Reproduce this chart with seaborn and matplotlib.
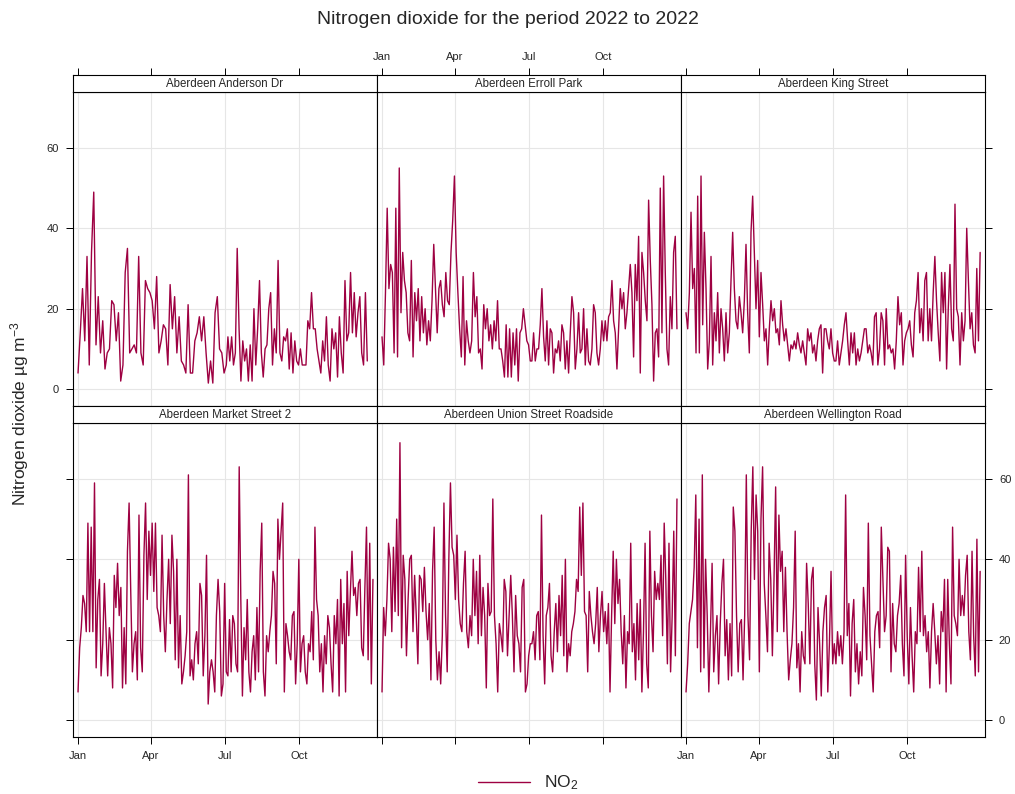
import pandas as pd
import matplotlib
matplotlib.use("Agg")
import matplotlib.pyplot as plt
import matplotlib.dates as mdates
import seaborn as sns
from matplotlib.lines import Line2D

# h1 = Jan..early Jul, h2 = early Jul..Dec
sites = ["Aberdeen Anderson Dr", "Aberdeen Erroll Park", "Aberdeen King Street",
         "Aberdeen Market Street 2", "Aberdeen Union Street Roadside", "Aberdeen Wellington Road"]
last_day = ["2022-12-24", "2022-12-31", "2022-12-30", "2022-12-31", "2022-12-31", "2022-12-30"]

anderson_h1 = [4, 14, 25, 12, 33, 6, 34, 49, 11, 23, 9, 17, 5, 9, 10, 22, 21, 12, 19, 2, 6, 29, 35, 9, 10,
               11, 9, 33, 9, 6, 27, 25, 24, 22, 15, 28, 9, 12, 16, 15, 6, 26, 15, 23, 9, 18, 7, 6, 4, 21,
               4, 4, 12, 14, 18, 12, 18, 9, 1.5, 7, 1.5, 19, 23, 10, 9, 4, 6]
anderson_h2 = [13, 7, 13, 6, 9, 35, 15, 2, 12, 7, 10, 2, 11, 2, 20, 6, 15, 27, 9, 3, 10, 11, 20, 24, 6,
               15, 9, 32, 9, 7, 13, 12, 15, 5, 14, 4, 12, 7, 6, 10, 6, 6, 6, 17, 15, 24, 15, 15, 10, 7,
               4, 12, 7, 18, 6, 2, 15, 10, 14, 3, 18, 9, 4, 27, 12, 14, 29, 14, 24, 13, 19, 23, 9, 6, 24, 7]

erroll_h1 = [13, 6, 24, 45, 25, 31, 29, 9, 45, 8, 55, 19, 34, 27, 24, 14, 12, 32, 8, 24, 17, 25, 12, 23, 14,
             20, 11, 17, 12, 22, 36, 25, 14, 25, 27, 21, 18, 29, 22, 21, 34, 42, 53, 34, 24, 15, 8, 28, 6, 17,
             12, 9, 12, 29, 18, 23, 9, 10, 5, 21, 15, 20, 12, 16, 10, 17, 12, 22, 10, 10, 7, 3, 16, 3, 15,
             3, 14, 6, 15, 2, 14, 15, 20, 16, 12, 11, 7]
erroll_h2 = [7, 14, 7, 10, 10, 16, 25, 13, 7, 17, 6, 15, 14, 4, 10, 9, 12, 7, 16, 14, 5, 12, 4, 14, 23,
             19, 5, 10, 19, 9, 10, 20, 6, 15, 7, 6, 10, 21, 19, 9, 6, 10, 17, 12, 17, 12, 18, 19, 27, 17,
             14, 5, 15, 25, 20, 24, 15, 19, 25, 31, 24, 8, 31, 22, 38, 4, 34, 29, 22, 17, 47, 32, 21, 2, 14,
             15, 8, 50, 14, 53, 29, 10, 6, 23, 15, 34, 38, 15]

king_h1 = [19, 15, 24, 44, 25, 30, 9, 48, 9, 53, 16, 39, 25, 5, 12, 33, 6, 19, 12, 24, 9, 20, 15, 7, 19,
           9, 14, 27, 39, 25, 17, 15, 23, 19, 14, 22, 36, 19, 9, 39, 48, 34, 20, 32, 13, 29, 21, 12, 15, 6,
           15, 22, 17, 20, 14, 15, 11, 22, 16, 12, 15, 11, 7, 11, 10, 12, 10, 14, 11, 9, 12, 9, 6, 15, 12,
           14, 9, 11, 7, 12, 15, 16, 4, 15, 15, 12, 10, 15, 9, 7]
king_h2 = [7, 12, 6, 9, 12, 16, 19, 12, 6, 14, 9, 14, 6, 10, 7, 9, 12, 15, 15, 9, 11, 9, 6, 18, 19,
           6, 10, 19, 17, 6, 20, 10, 11, 9, 10, 5, 12, 23, 16, 19, 6, 12, 14, 15, 17, 11, 8, 19, 22, 29,
           14, 20, 12, 27, 29, 12, 20, 12, 24, 33, 22, 14, 7, 29, 19, 29, 5, 20, 31, 15, 12, 46, 20, 18, 6,
           19, 12, 17, 40, 27, 15, 19, 11, 9, 30, 12, 34]

market_h1 = [7, 18, 23, 31, 29, 22, 49, 22, 48, 22, 59, 13, 30, 35, 11, 19, 34, 22, 11, 23, 19, 8, 36, 28, 39,
             26, 33, 8, 23, 9, 42, 54, 32, 12, 19, 22, 10, 51, 18, 12, 41, 54, 30, 47, 36, 49, 32, 49, 28, 26,
             22, 46, 26, 17, 30, 40, 24, 46, 37, 15, 40, 13, 26, 9, 12, 16, 22, 61, 11, 15, 10, 19, 22, 14, 34,
             31, 11, 21, 41, 4, 12, 15, 12, 7, 26, 35, 27, 6, 9, 34, 12]
market_h2 = [11, 25, 12, 26, 24, 14, 12, 63, 30, 6, 23, 15, 30, 12, 7, 17, 21, 10, 28, 12, 37, 49, 12, 6, 21,
             17, 22, 26, 37, 34, 14, 50, 40, 47, 54, 7, 24, 21, 17, 15, 26, 27, 9, 19, 40, 12, 19, 21, 12, 9,
             19, 17, 27, 15, 48, 30, 26, 12, 19, 7, 21, 14, 26, 23, 14, 7, 26, 19, 30, 6, 35, 19, 29, 7, 37,
             21, 32, 42, 31, 33, 26, 34, 35, 18, 16, 33, 48, 15, 44, 9, 35]

union_h1 = [7, 28, 21, 30, 44, 40, 22, 43, 27, 50, 26, 69, 18, 41, 35, 16, 30, 40, 41, 22, 36, 26, 14, 36, 35,
            27, 38, 27, 20, 29, 10, 37, 48, 20, 10, 17, 9, 21, 54, 26, 12, 40, 59, 43, 41, 30, 46, 30, 24, 22,
            34, 42, 22, 18, 26, 21, 40, 26, 37, 19, 41, 21, 33, 26, 8, 34, 26, 27, 55, 26, 19, 7, 24, 21, 17,
            35, 32, 16, 26, 36, 26, 12, 31, 21, 19, 12, 33, 35, 7, 9, 16, 19]
union_h2 = [19, 22, 15, 26, 27, 15, 51, 21, 9, 26, 28, 34, 16, 12, 22, 29, 17, 31, 21, 36, 16, 40, 12, 19, 16,
            22, 24, 27, 35, 32, 53, 36, 54, 27, 26, 12, 32, 26, 22, 19, 24, 33, 17, 26, 32, 22, 27, 19, 29, 7,
            26, 42, 24, 40, 29, 35, 22, 14, 26, 8, 22, 19, 44, 17, 24, 10, 29, 15, 30, 7, 22, 44, 14, 8, 47,
            26, 17, 37, 30, 34, 30, 41, 21, 49, 35, 14, 44, 12, 26, 47, 16, 55]

wellington_h1 = [7, 14, 24, 27, 30, 38, 56, 18, 50, 12, 61, 13, 40, 26, 7, 22, 39, 12, 21, 26, 9, 24, 34, 40, 16,
                 25, 10, 24, 11, 53, 47, 26, 12, 24, 25, 10, 26, 61, 26, 15, 47, 63, 35, 56, 47, 12, 50, 63, 34, 26,
                 17, 44, 35, 16, 35, 58, 22, 51, 37, 42, 22, 38, 22, 10, 15, 19, 28, 47, 13, 19, 7, 22, 16, 14, 39,
                 29, 14, 35, 38, 14, 5, 28, 19, 6, 22, 28, 31, 7, 19, 37, 14, 19]
wellington_h2 = [14, 22, 16, 21, 14, 22, 56, 21, 29, 6, 24, 30, 12, 19, 9, 17, 11, 33, 26, 15, 49, 21, 14, 7, 22,
                 26, 27, 18, 48, 35, 22, 26, 43, 42, 12, 29, 19, 17, 26, 29, 36, 19, 11, 41, 21, 9, 28, 16, 7, 22,
                 19, 38, 22, 42, 21, 26, 17, 22, 8, 22, 29, 22, 14, 21, 9, 27, 22, 35, 7, 35, 19, 9, 48, 26, 24,
                 21, 40, 26, 31, 26, 36, 41, 22, 15, 42, 21, 11, 45, 12, 37]

halves = [(anderson_h1, anderson_h2), (erroll_h1, erroll_h2), (king_h1, king_h2),
          (market_h1, market_h2), (union_h1, union_h2), (wellington_h1, wellington_h2)]

frames = []
for site, (h1, h2), end in zip(sites, halves, last_day):
    d1 = pd.date_range("2022-01-01", "2022-07-03", periods=len(h1))
    d2 = pd.date_range("2022-07-05", end, periods=len(h2))
    frames.append(pd.DataFrame({"site": site, "date": d1.append(d2), "no2": h1 + h2}))
df = pd.concat(frames, ignore_index=True)

sns.set_theme(style="white")
plt.rcParams["font.family"] = ["Liberation Sans", "DejaVu Sans"]
plt.rcParams["mathtext.fontset"] = "custom"
plt.rcParams["mathtext.rm"] = "Liberation Sans"
plt.rcParams["mathtext.it"] = "Liberation Sans:italic"

LINE = "#9E0142"
W, H = 1015, 794
fig = plt.figure(figsize=(W / 100, H / 100), dpi=100)


def fax(x0, y0, w, h):
    return fig.add_axes([x0 / W, 1 - (y0 + h) / H, w / W, h / H])


col_x = [73, 377, 681]
PW = 304
strip_y = [75, 406]
SH = 17
PH = 314
xlim = (pd.Timestamp("2022-01-01") - pd.Timedelta(days=6.2), pd.Timestamp("2022-01-01") + pd.Timedelta(days=369))
xticks = pd.to_datetime(["2022-01-01", "2022-04-01", "2022-07-01", "2022-10-01"])
fmt = mdates.DateFormatter("%b")

for i, site in enumerate(sites):
    r, c = divmod(i, 3)
    ax = fax(col_x[c], strip_y[r] + SH, PW, PH)
    ax.grid(True, color="#e6e6e6", lw=0.8)
    ax.set_axisbelow(True)
    sns.lineplot(data=df[df["site"] == site], x="date", y="no2", color=LINE, lw=1.0, ax=ax, legend=False)
    ax.set_xlim(xlim)
    ax.set_ylim(-4.2, 73.9)
    ax.set_xticks(xticks)
    ax.xaxis.set_major_formatter(fmt)
    ax.set_yticks([0, 20, 40, 60])
    ax.set_xlabel("")
    ax.set_ylabel("")
    for s in ax.spines.values():
        s.set_color("black")
        s.set_linewidth(0.8)
    ax.tick_params(length=5, width=0.7, color="black", labelsize=8, direction="out", pad=5)
    ax.tick_params(axis="y", left=(c == 0), labelleft=(r == 0 and c == 0),
                   right=(c == 2), labelright=(r == 1 and c == 2))
    ax.tick_params(axis="x", top=False, labeltop=False,
                   bottom=(r == 1), labelbottom=(r == 1 and c != 1))

    sax = fax(col_x[c], strip_y[r], PW, SH)
    sax.set_xlim(xlim)
    sax.set_yticks([])
    for s in sax.spines.values():
        s.set_color("black")
        s.set_linewidth(0.8)
    sax.text(0.5, 0.48, site, transform=sax.transAxes, ha="center", va="center", fontsize=8.3)
    if r == 0:
        sax.set_xticks(xticks)
        sax.xaxis.set_major_formatter(fmt)
        sax.xaxis.tick_top()
        sax.tick_params(axis="x", length=5, width=0.7, color="black", labelsize=8, pad=4,
                        labeltop=(c == 1), bottom=False, labelbottom=False)
    else:
        sax.set_xticks([])

fig.text(0.5, 1 - 19 / H, "Nitrogen dioxide for the period 2022 to 2022", ha="center", va="center", fontsize=14)
fig.text(20 / W, 1 - 414 / H, "Nitrogen dioxide µg m$^{-3}$", rotation=90, ha="center", va="center", fontsize=12.5)
fig.legend(handles=[Line2D([], [], color=LINE, lw=1)], labels=["NO$_2$"], loc="center",
           bbox_to_anchor=(528 / W, 1 - 783 / H), frameon=False, handlelength=3.0, fontsize=12.5)

fig.savefig("out.png", dpi=100)
